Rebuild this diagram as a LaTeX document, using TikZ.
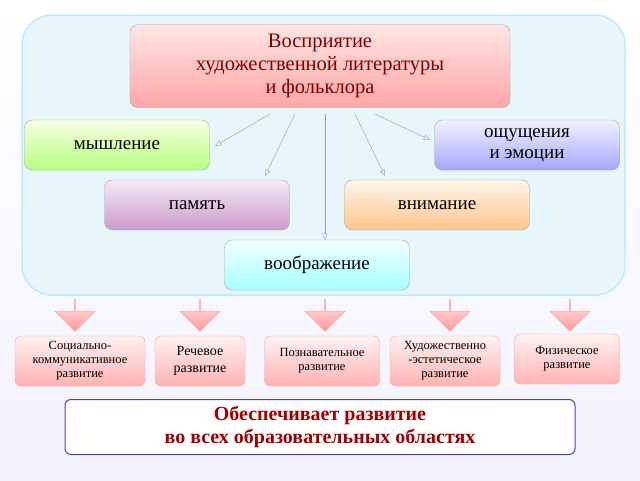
\documentclass[tikz,border=0pt]{standalone}
\usepackage{fontspec}
\setmainfont{Liberation Serif}
\renewcommand{\familydefault}{\rmdefault}
\usetikzlibrary{shapes.arrows, arrows}
\definecolor{bgblue}{HTML}{E6F6FA}
\definecolor{txtred}{HTML}{A00000}
\tikzstyle{topic} = [rectangle, rounded corners=8pt, draw=black!35, align=center, font=\rmfamily\fontsize{19}{21}\selectfont]
\tikzstyle{area} = [rectangle, rounded corners=6pt, draw=red!40, top color=red!5, bottom color=red!30, align=center, font=\rmfamily\fontsize{12.5}{14}\selectfont, inner sep=1pt]
\tikzstyle{link} = [draw=blue!40!gray!60, ->, >=open triangle 45]
\tikzstyle{down} = [single arrow, draw=red!40, top color=red!10, bottom color=red!40, shape border rotate=270, minimum width=40pt, minimum height=32pt, single arrow head extend=9pt, inner sep=0pt]

\begin{document}
\begin{tikzpicture}[x=1pt, y=1pt]
	\useasboundingbox[top color=white, bottom color=blue!5] (0,0) rectangle (640,-480);
	\draw[rounded corners=30pt, fill=bgblue, draw=cyan!25, line width=1.5pt] (22,-15) rectangle (625,-295);

	\node (perc) [topic, minimum width=380pt, minimum height=83pt, top color=red!10, bottom color=red!35, font=\rmfamily\fontsize{20.5}{23}\selectfont, text=red!50!black] at (320,-66) {Восприятие\\ художественной литературы\\ и фольклора};
	\node (think) [topic, minimum width=185pt, minimum height=50pt, top color=lime!10, bottom color=lime!55!green!50] at (117,-145) {мышление};
	\node (feel) [topic, minimum width=185pt, minimum height=50pt, top color=blue!5, bottom color=blue!35, inner sep=0pt] at (527,-145) {ощущения\\ и эмоции};
	\node (mem) [topic, minimum width=185pt, minimum height=50pt, top color=violet!8, bottom color=violet!40] at (197,-205) {память};
	\node (att) [topic, minimum width=185pt, minimum height=50pt, top color=orange!8, bottom color=orange!45] at (437,-205) {внимание};
	\node (imag) [topic, minimum width=185pt, minimum height=50pt, top color=cyan!5, bottom color=cyan!35] at (317,-265) {воображение};

	\coordinate (p1) at (270,-114);
	\coordinate (p2) at (295,-114);
	\coordinate (p3) at (325,-114);
	\coordinate (p4) at (355,-114);
	\coordinate (p5) at (375,-114);
	\draw [link] (p1) -- (215,-146);
	\draw [link] (p2) -- (265,-176);
	\draw [link] (p3) -- (imag.north -| p3);
	\draw [link] (p4) -- (385,-176);
	\draw [link] (p5) -- (430,-140);

	\foreach \x in {75,200,325,450,570}
		\node [down] at (\x,-315) {};

	\node (soc) [area, minimum width=130pt, minimum height=50pt] at (80,-361) {Социально-\\коммуникативное\\развитие};
	\node (speech) [area, minimum width=90pt, minimum height=50pt, font=\rmfamily\fontsize{14}{17}\selectfont] at (200,-361) {Речевое\\развитие};
	\node (cogn) [area, minimum width=115pt, minimum height=50pt] at (322,-361) {Познавательное\\развитие};
	\node (art) [area, minimum width=110pt, minimum height=50pt] at (445,-361) {Художественно\\-эстетическое\\развитие};
	\node (phys) [area, minimum width=105pt, minimum height=50pt] at (567,-359) {Физическое\\развитие};

	\node (all) [rectangle, rounded corners=6pt, draw=blue!45!gray, line width=1pt, fill=white, minimum width=510pt, minimum height=55pt, align=center, font=\rmfamily\fontsize{20}{23}\selectfont\bfseries, text=txtred] at (320,-427) {Обеспечивает развитие\\ во всех образовательных областях};
\end{tikzpicture}
\end{document}
